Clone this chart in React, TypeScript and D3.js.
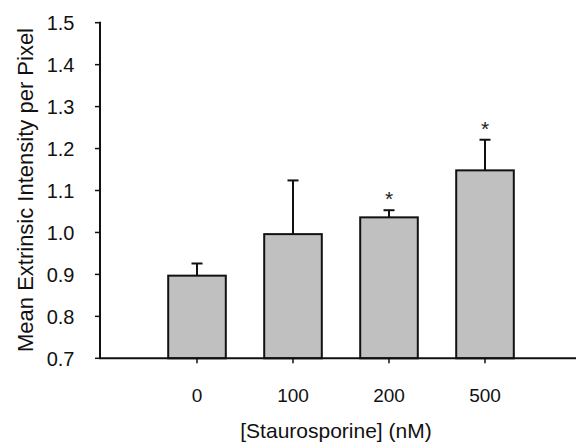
import * as d3 from "d3";

const doses = ["0", "100", "200", "500"];
const means = [0.897, 0.996, 1.036, 1.148];
const errors = [0.029, 0.128, 0.017, 0.073];
const significant = [false, false, true, true];
const yTicks = [0.7, 0.8, 0.9, 1.0, 1.1, 1.2, 1.3, 1.4, 1.5];

const App = () => {
  const width = 577;
  const height = 445;
  const axisX = 100;
  const axisY = 358.3;
  const font = "Liberation Sans, Arial, Helvetica, sans-serif";

  const y = d3.scaleLinear().domain([0.7, 1.5]).range([axisY, 22.7]);
  const x = d3
    .scaleBand()
    .domain(doses)
    .range([149, 533])
    .paddingInner(0.4)
    .paddingOuter(0.2);
  const bw = x.bandwidth();

  return (
    <svg
      width={width}
      height={height}
      style={{ position: "absolute", left: 0, top: 0, background: "white" }}
      fontFamily={font}
    >
      {/* bars */}
      {doses.map((d, i) => {
        const cx = (x(d) ?? 0) + bw / 2;
        const top = y(means[i]);
        const errTop = y(means[i] + errors[i]);
        return (
          <g key={d}>
            <line x1={cx} x2={cx} y1={top} y2={errTop} stroke="#111" strokeWidth={2} />
            <line x1={cx - 5.5} x2={cx + 5.5} y1={errTop} y2={errTop} stroke="#111" strokeWidth={2} />
            <rect
              x={x(d)}
              y={top}
              width={bw}
              height={axisY - top}
              fill="#c0c0c0"
              stroke="#111"
              strokeWidth={2}
            />
            {significant[i] && (
              <text x={cx} y={errTop - 4} textAnchor="middle" fontSize={21} fill="#222">
                *
              </text>
            )}
            <line x1={cx} x2={cx} y1={axisY} y2={axisY + 5} stroke="#111" strokeWidth={1.5} />
            <text x={cx} y={401.5} textAnchor="middle" fontSize={19} fill="#111">
              {d}
            </text>
          </g>
        );
      })}

      {/* y axis */}
      <line x1={axisX} x2={axisX} y1={y(1.5) - 1} y2={axisY} stroke="#111" strokeWidth={2} />
      {yTicks.map((t) => (
        <g key={t}>
          <line x1={axisX - 5} x2={axisX} y1={y(t)} y2={y(t)} stroke="#111" strokeWidth={1.5} />
          <text
            x={74.5}
            y={y(t)}
            dy="0.36em"
            textAnchor="end"
            fontSize={20}
            fill="#111"
          >
            {t.toFixed(1)}
          </text>
        </g>
      ))}

      {/* x axis */}
      <line x1={axisX - 1} x2={576} y1={axisY} y2={axisY} stroke="#111" strokeWidth={2} />

      <text x={336} y={438} textAnchor="middle" fontSize={21} fill="#111">
        [Staurosporine] (nM)
      </text>
      <text
        transform={`translate(32.5, 190) rotate(-90)`}
        textAnchor="middle"
        fontSize={22}
        fill="#111"
      >
        Mean Extrinsic Intensity per Pixel
      </text>
    </svg>
  );
};

export default App;
